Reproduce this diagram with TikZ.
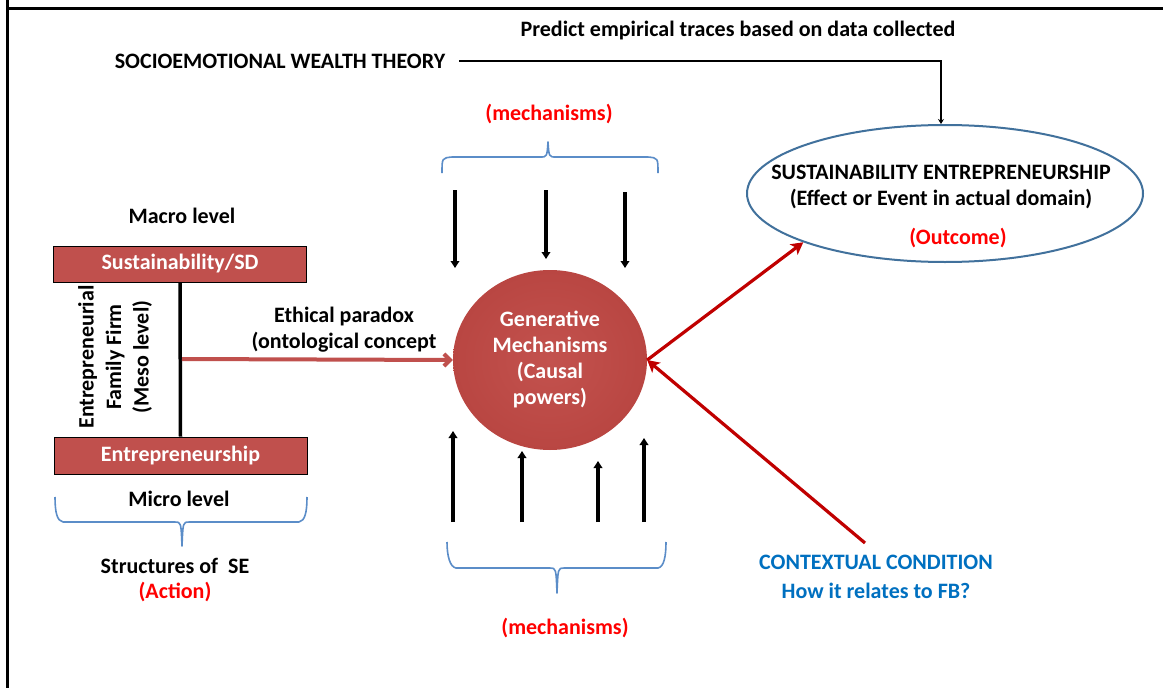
\documentclass[tikz,border=0pt]{standalone}
\usepackage{fontspec}
\setmainfont{Carlito}
\usetikzlibrary{arrows.meta,shapes.geometric}
\definecolor{boxred}{HTML}{C0504D}
\definecolor{darkred}{HTML}{C00000}
\definecolor{brightred}{HTML}{FF0000}
\definecolor{seblue}{HTML}{41719C}
\definecolor{brblue}{HTML}{5B8DC8}
\definecolor{ctblue}{HTML}{0070C0}
\definecolor{gmin}{HTML}{C3524E}
\definecolor{gmout}{HTML}{B94642}
\tikzset{
  txt/.style={font=\fontsize{22}{26}\selectfont\bfseries, inner sep=0pt},
  redtxt/.style={txt, text=brightred},
  redbox/.style={txt, draw=black, line width=0.8pt, fill=boxred, text=white, minimum width=253pt, minimum height=36pt},
  brc/.style={draw=brblue, line width=1.6pt, line join=round},
  mech/.style={line width=3.2pt, -{Triangle[length=7pt,width=8.5pt]}},
  redarr/.style={draw=darkred, line width=3.2pt, -{Stealth[length=12pt,width=13pt,inset=3pt]}},
  etharr/.style={draw=boxred, line width=4pt, -{Straight Barb[length=6pt,width=12pt]}},
}
\begin{document}
\begin{tikzpicture}[x=1pt,y=-1pt]
\useasboundingbox (0,0) rectangle (1163,688);
\fill[white] (0,0) rectangle (1163,688);
% frame
\draw[line width=3pt] (7,0) -- (7,688);
\draw[line width=3pt] (7,8) -- (1163,8);

% top texts
\node[txt] (pred) at (738,31) {Predict empirical traces based on data collected};
\node[txt] (swt) at (280,61) {SOCIOEMOTIONAL WEALTH THEORY};

% outcome ellipse
\node[ellipse, draw=seblue, line width=2pt, minimum width=396pt, minimum height=137pt, inner sep=0pt] (se) at (945,193.5) {};
\node[txt, align=center] (setxt) at (941,187) {SUSTAINABILITY ENTREPRENEURSHIP\\(Effect or Event in actual domain)};
\node[redtxt] (outc) at (958,238) {(Outcome)};
\draw[line width=2.4pt, -{Stealth[length=5pt,width=6pt]}] ([xshift=14pt]swt.east) -| ([xshift=-4pt]se.north);

% generative mechanisms
\node[ellipse, minimum width=194pt, minimum height=180pt, inner sep=0pt, inner color=gmin, outer color=gmout] (gm) at (550,360) {};
\node[txt, text=white, align=center] (gmtxt) at (550,359) {Generative\\Mechanisms\\(Causal\\powers)};

% top mechanisms
\node[redtxt] (mtop) at (549,114) {(mechanisms)};
\draw[brc] (442,173) .. controls (442,158) .. (452,157) -- (540,157) .. controls (547,157) .. (548,142) .. controls (549,157) .. (556,157) -- (648,157) .. controls (658,158) .. (658,173);
\coordinate (d1s) at (455,190); \coordinate (d1e) at (455,268);
\coordinate (d2s) at (546,190); \coordinate (d2e) at (546,259);
\coordinate (d3s) at (625,192); \coordinate (d3e) at (625,268);
\draw[mech] (d1s) -- (d1e);
\draw[mech] (d2s) -- (d2e);
\draw[mech] (d3s) -- (d3e);

% bottom mechanisms
\coordinate (u1s) at (453,522); \coordinate (u1e) at (453,431);
\coordinate (u2s) at (522,522); \coordinate (u2e) at (522,451);
\coordinate (u3s) at (598,522); \coordinate (u3e) at (598,461);
\coordinate (u4s) at (644,522); \coordinate (u4e) at (644,438);
\draw[mech] (u1s) -- (u1e);
\draw[mech] (u2s) -- (u2e);
\draw[mech] (u3s) -- (u3e);
\draw[mech] (u4s) -- (u4e);
\draw[brc] (447,542) .. controls (447,556) and (450,567) .. (456,568) -- (550,568) .. controls (556,568) .. (557,593) .. controls (558,568) .. (564,568) -- (658,568) .. controls (664,567) and (666,556) .. (666,542);
\node[redtxt] (mbot) at (565,628) {(mechanisms)};

% left structure
\node[txt] (macro) at (182,216) {Macro level};
\node[redbox] (sus) at (180,264) {Sustainability/SD};
\node[redbox, minimum height=37pt] (ent) at (180.5,455.5) {Entrepreneurship};
\draw[line width=3.5pt] (sus.south) -- (ent.north);
\node[txt, rotate=90, align=center, font=\fontsize{22}{27.5}\selectfont\bfseries] (meso) at (115,357) {Entrepreneurial\\Family Firm\\(Meso level)};
\node[txt, align=center] (eth) at (344,330) {Ethical paradox\\(ontological concept};
\coordinate (eths) at (182,359);
\draw[etharr] (eths) -- (gm.west);
\node[txt] (micro) at (179,499) {Micro level};
\draw[brc] (55,497) .. controls (55,512) and (57,521) .. (63,522) -- (175,522) .. controls (181,522) .. (182,546) .. controls (183,522) .. (189,522) -- (299,522) .. controls (305,521) and (307,512) .. (307,497);
\node[txt] (struct) at (175,566) {Structures of~~SE};
\node[redtxt] (action) at (175,592) {(Action)};

% contextual condition
\node[txt, text=ctblue, align=center, font=\fontsize{22}{29}\selectfont\bfseries] (ctx) at (876,577) {CONTEXTUAL CONDITION\\How it relates to FB?};
\coordinate (ctxtop) at (865,543);

% red arrows
\draw[redarr] (gm.east) -- (se.199.5);
\draw[redarr] (ctxtop) -- (gm.east);
\end{tikzpicture}
\end{document}
